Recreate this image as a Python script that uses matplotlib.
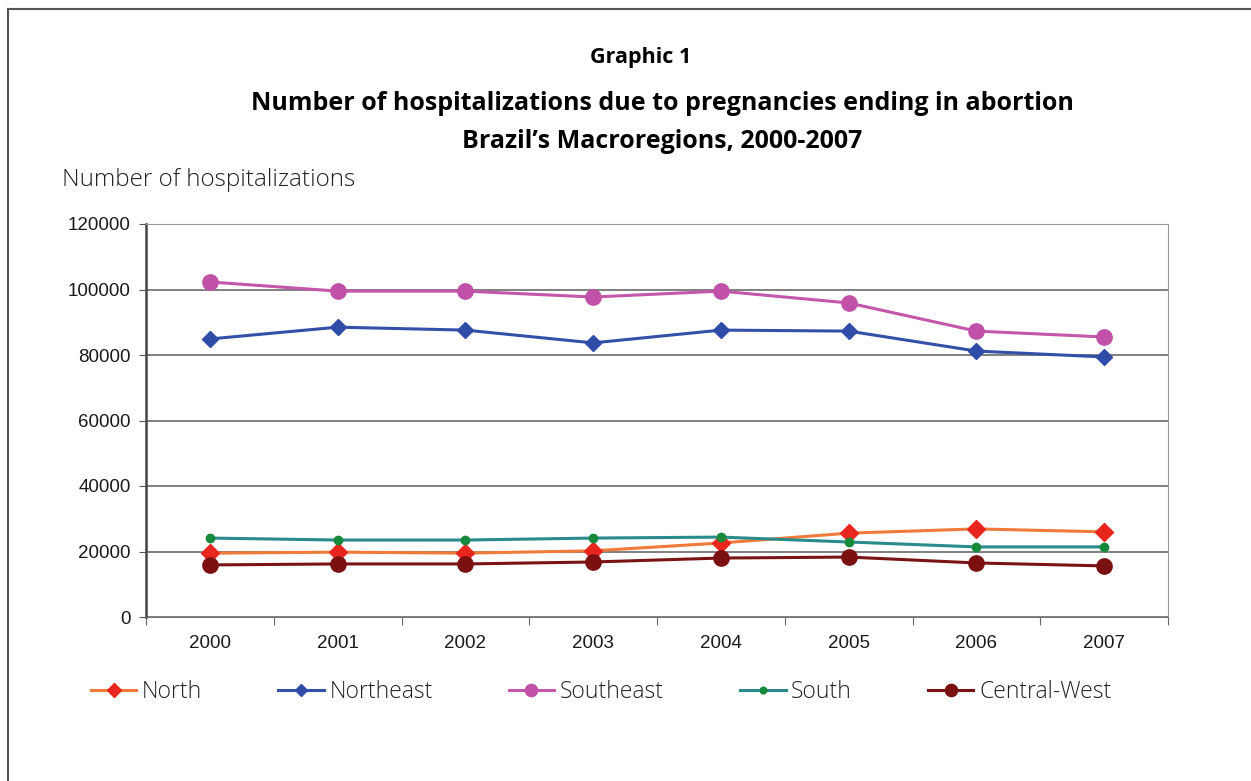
import numpy as np
import matplotlib
matplotlib.use("Agg")
import matplotlib.pyplot as plt
from matplotlib.lines import Line2D

# Hospitalizations for abortion by macroregion
years = ["2000", "2001", "2002", "2003", "2004", "2005", "2006", "2007"]
north = [19500, 19800, 19500, 20200, 22600, 25600, 26900, 26000]
northeast = [84900, 88500, 87600, 83700, 87600, 87300, 81200, 79400]
southeast = [102300, 99500, 99500, 97700, 99500, 95900, 87300, 85500]
south = [24100, 23500, 23500, 24100, 24400, 22900, 21400, 21400]
central_west = [15900, 16200, 16200, 16800, 18000, 18300, 16500, 15600]

series = [
    ("North", north, "#f07a3a", "#e8261e", "D", 9),
    ("Northeast", northeast, "#3350a8", "#2f4da8", "D", 8),
    ("Southeast", southeast, "#c456ac", "#c050a8", "o", 11),
    ("South", south, "#2a8a8c", "#158a3a", "o", 6),
    ("Central-West", central_west, "#7a1414", "#7a1010", "o", 11),
]

fig = plt.figure(figsize=(12.51, 7.81), dpi=100)
ax = fig.add_axes([146 / 1251, 1 - 617 / 781, (1168 - 146) / 1251, (617 - 224) / 781])

x = np.arange(len(years))
for name, vals, lc, mc, mk, ms in series:
    ax.plot(x, vals, color=lc, lw=2.2, marker=mk, markersize=ms,
            markerfacecolor=mc, markeredgecolor=mc, label=name, zorder=3)

ax.set_ylim(0, 120000)
ax.set_yticks(np.arange(0, 120001, 20000))
ax.set_xlim(-0.5, len(years) - 0.5)
ax.set_xticks(np.arange(-0.5, len(years), 1.0))
ax.set_xticklabels([])
ax.set_xticks(x, minor=True)
ax.set_xticklabels(years, minor=True)
ax.tick_params(axis="x", which="minor", length=0, pad=13)
ax.tick_params(axis="x", which="major", length=6, color="#666666")
ax.tick_params(axis="y", length=5, color="#555555", pad=6)
for lab in ax.get_xticklabels(minor=True) + ax.get_yticklabels():
    lab.set_fontfamily("Liberation Sans")
    lab.set_fontsize(13.5)
    lab.set_color("#1a1a1a")

ax.yaxis.grid(True, color="#6a6a6a", lw=1.2)
ax.set_axisbelow(True)
ax.spines["left"].set_color("#444444")
ax.spines["left"].set_linewidth(1.8)
ax.spines["bottom"].set_color("#777777")
ax.spines["top"].set_color("#999999")
ax.spines["right"].set_color("#999999")

# titles
fig.text(641 / 1251, 1 - 57 / 781, "Graphic 1", ha="center", va="center",
         fontfamily="Open Sans", fontweight="bold", fontsize=15.5)
fig.text(662 / 1251, 1 - 104 / 781,
         "Number of hospitalizations due to pregnancies ending in abortion",
         ha="center", va="center", fontfamily="Open Sans", fontweight="bold", fontsize=18)
fig.text(662 / 1251, 1 - 142 / 781, "Brazil\u2019s Macroregions, 2000-2007",
         ha="center", va="center", fontfamily="Open Sans", fontweight="bold", fontsize=18)
fig.text(62 / 1251, 1 - 180 / 781, "Number of hospitalizations", ha="left", va="center",
         fontfamily="Open Sans", fontweight="light", fontsize=17.5, color="#222222")

leg = fig.legend(loc="center left", bbox_to_anchor=(70 / 1251, 1 - 692 / 781), ncol=5,
                 frameon=False, handlelength=2.0, handletextpad=0.25, columnspacing=3.3,
                 markerscale=0.8,
                 prop={"family": "Open Sans", "weight": "light", "size": 16.5})
for t in leg.get_texts():
    t.set_color("#222222")

# outer frame
fig.add_artist(Line2D([8 / 1251, 8 / 1251], [0, 1 - 9 / 781], transform=fig.transFigure,
                      color="#555555", lw=1.5))
fig.add_artist(Line2D([8 / 1251, 1], [1 - 9 / 781, 1 - 9 / 781], transform=fig.transFigure,
                      color="#555555", lw=1.5))

fig.savefig("out.png", dpi=100)
